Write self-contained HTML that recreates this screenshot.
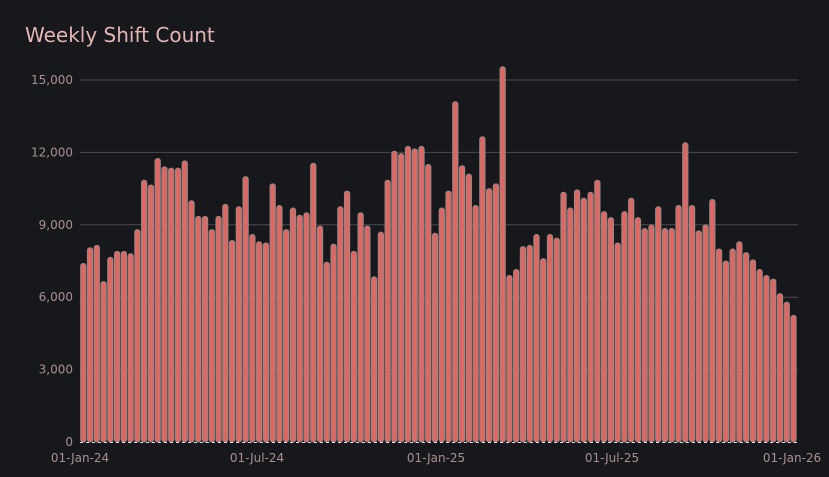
<!DOCTYPE html>
<html><head><meta charset="utf-8"><style>
html,body{margin:0;padding:0;background:#17181c;}
svg{display:block;}
text{font-family:"DejaVu Sans","Liberation Sans",sans-serif;}
</style></head><body>
<svg id="chart" width="829" height="477" viewBox="0 0 829 477">
<text x="25" y="42" fill="#e3b5b5" font-size="20">Weekly Shift Count</text>
<g id="grid"></g><g id="bars"></g><g id="axes"></g>
</svg>
<script>
const values=[7400,8050,8150,6650,7650,7900,7900,7800,8800,10850,10650,11750,11400,11350,11350,11650,10000,9350,9350,8800,9350,9850,8350,9750,11000,8600,8300,8250,10700,9800,8800,9700,9400,9500,11550,8950,7450,8200,9750,10400,7900,9500,8950,6850,8700,10850,12050,11950,12250,12150,12250,11500,8650,9700,10400,14100,11450,11100,9800,12650,10500,10700,15550,6900,7150,8100,8150,8600,7600,8600,8450,10350,9700,10450,10100,10350,10850,9550,9300,8250,9550,10100,9300,8850,9000,9750,8850,8850,9800,12400,9800,8750,9000,10050,8000,7500,8000,8300,7850,7550,7150,6900,6750,6150,5800,5250];
const yTicks=[0,3000,6000,9000,12000,15000];
const yTickLabels=["0","3,000","6,000","9,000","12,000","15,000"];
const xTickLabels=["01-Jan-24","01-Jul-24","01-Jan-25","01-Jul-25","01-Jan-26"];
const xTickFrac=[0,0.2486,0.5,0.7472,1];
const NS="http://www.w3.org/2000/svg";
const x0=80,x1=797,y0=442,yTop=80,yMaxVal=15000;
const yScale=v=>y0-(v/yMaxVal)*(y0-yTop);
const pitch=(x1-x0)/values.length;
const xScale=i=>x0+i*pitch;
function mk(tag,attrs,parent){const e=document.createElementNS(NS,tag);for(const k in attrs)e.setAttribute(k,attrs[k]);parent.appendChild(e);return e;}
const grid=document.getElementById('grid'),bars=document.getElementById('bars'),axes=document.getElementById('axes');
yTicks.forEach((t,i)=>{
  const y=yScale(t);
  if(t>0){const l=mk('line',{x1:x0,x2:798,y1:y,y2:y,stroke:'#4a4b4f','stroke-width':1},grid);
  
  }
  const tx=mk('text',{x:73,y:y+4,'text-anchor':'end',fill:'#a89090','font-size':12},axes);
  tx.textContent=yTickLabels[i];
  
  
});
values.forEach((v,i)=>{
  const x=xScale(i)+0.6,w=pitch-1.4,y=yScale(v);
  const r=mk('rect',{x:x,y:y,width:w,height:y0-y,rx:2.5,fill:'#dd6763',stroke:'#8c8c8c','stroke-width':0.9},bars);
  
  
});
const base=mk('line',{x1:x0,x2:x1,y1:y0+0.5,y2:y0+0.5,stroke:'#ddd','stroke-width':1,'stroke-dasharray':'3,3'},axes);


xTickLabels.forEach((s,i)=>{
  const tx=mk('text',{x:x0+xTickFrac[i]*(792-x0),y:462,'text-anchor':'middle',fill:'#a89090','font-size':12},axes);
  tx.textContent=s;
  
  
});
</script>
</body></html>
